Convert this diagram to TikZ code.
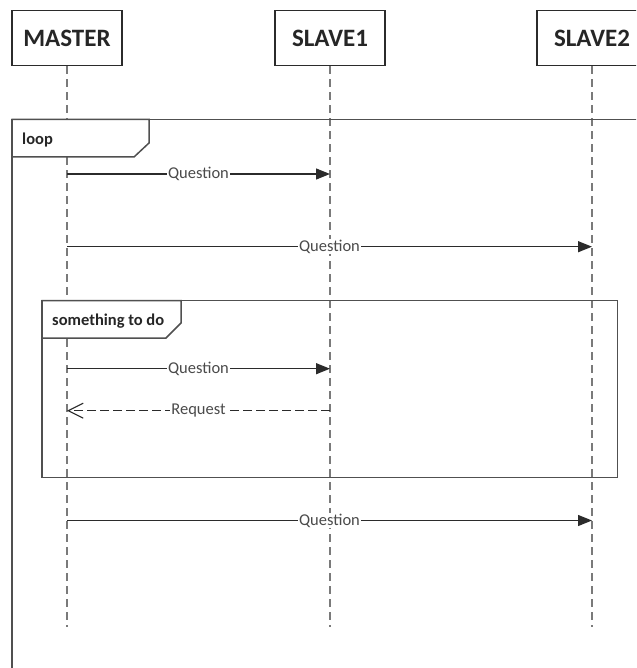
\documentclass[tikz,border=0pt]{standalone}
\usepackage{fontspec}
\setmainfont{Carlito}
\usetikzlibrary{arrows.meta}
\definecolor{ink}{HTML}{2B2B2B}
\definecolor{lifegray}{HTML}{7A7A7A}
\definecolor{framegray}{HTML}{505050}
\definecolor{labelgray}{HTML}{4A4A4A}
\begin{document}
\begin{tikzpicture}[x=1pt,y=-1pt,
  actor/.style={draw=ink, line width=1.5pt, minimum width=110pt, minimum height=55pt,
    inner sep=0pt, font=\fontsize{25}{28}\selectfont\bfseries, text=black!85},
  lifeline/.style={draw=lifegray, line width=1.4pt, dash pattern=on 8pt off 5pt},
  frame/.style={draw=framegray, line width=1.5pt},
  tab/.style={frame, fill=white},
  framelabel/.style={anchor=base west, inner sep=0pt,
    font=\fontsize{16.5}{18}\selectfont\bfseries, text=black!85},
  msg/.style={draw=ink, line width=1.2pt, -{Triangle[length=14pt,width=11pt]}},
  reply/.style={draw=ink, line width=1.2pt, dash pattern=on 9pt off 4pt,
    -{Straight Barb[length=15pt,width=15pt,line width=1.1pt]}},
  msglabel/.style={midway, fill=white, inner sep=1pt,
    font=\fontsize{16.5}{18}\selectfont, text=labelgray}]

\useasboundingbox (0,0) rectangle (636,668);
\clip (0,0) rectangle (636,668);

% participants
\node[actor] (master) at (67,38.2) {MASTER};
\node[actor] (slave1) at (330,38.2) {SLAVE1};
\node[actor] (slave2) at (592,38.2) {SLAVE2};

% lifelines
\coordinate (masterEnd) at (67,627);
\coordinate (slave1End) at (330,627);
\coordinate (slave2End) at (592,627);
\draw[lifeline] (master.south) -- (masterEnd);
\draw[lifeline] (slave1.south) -- (slave1End);
\draw[lifeline] (slave2.south) -- (slave2End);

% loop fragment (runs past the page edge)
\draw[frame] (12,690) -- (12,119.3) -- (660,119.3);
\draw[tab] (12,119.3) -- (149,119.3) -- (149,143) -- (134,157) -- (12,157) -- cycle;
\node[framelabel] (loopLabel) at (22,145) {loop};

% inner fragment
\draw[frame] (42,300.5) rectangle (617.5,477.5);
\draw[tab] (42,300.5) -- (181,300.5) -- (181,323) -- (166,338) -- (42,338) -- cycle;
\node[framelabel] (doLabel) at (52,325) {something to do};

% message end points on the lifelines
\coordinate (q1a) at (67,174);    \coordinate (q1b) at (330,174);
\coordinate (q2a) at (67,246.7);  \coordinate (q2b) at (592,246.7);
\coordinate (q3a) at (67,368.7);  \coordinate (q3b) at (330,368.7);
\coordinate (r1a) at (330,410.7); \coordinate (r1b) at (67,410.7);
\coordinate (q4a) at (67,520.5);  \coordinate (q4b) at (592,520.5);

% messages
\draw[msg] (q1a) -- (q1b) node[msglabel] {Question};
\draw[msg] (q2a) -- (q2b) node[msglabel] {Question};
\draw[msg] (q3a) -- (q3b) node[msglabel] {Question};
\draw[reply] (r1a) -- (r1b) node[msglabel] {Request};
\draw[msg] (q4a) -- (q4b) node[msglabel] {Question};
\end{tikzpicture}
\end{document}
